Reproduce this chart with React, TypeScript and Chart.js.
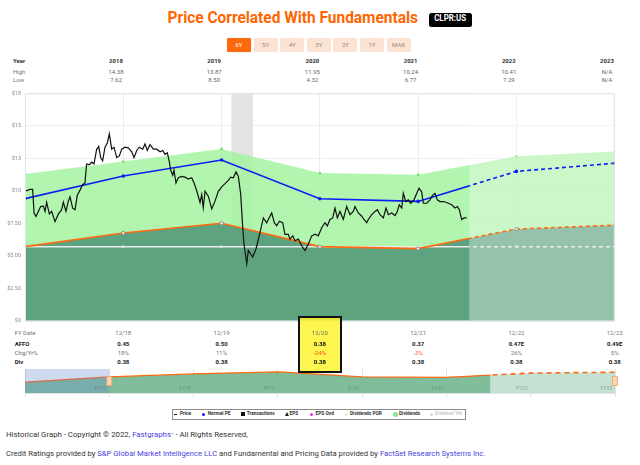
import React, { useEffect, useRef } from "react";
import { Chart, registerables } from "chart.js";
Chart.register(...registerables);

// ---------- data ----------
const fyIndex = [0, 1, 2, 3, 4, 5, 6]; // 12/17 .. 12/23
const headerYears = ["2018", "2019", "2020", "2021", "2022", "2023"];
const highs = ["14.38", "13.87", "11.95", "10.24", "10.41", "N/A"];
const lows = ["7.62", "8.50", "4.32", "6.77", "7.29", "N/A"];
const fyDates = ["12/18", "12/19", "12/20", "12/21", "12/22", "12/23"];
const affo = ["0.45", "0.50", "0.38", "0.37", "0.47E", "0.49E"];
const chgYr = ["18%", "11%", "-24%", "-3%", "26%", "5%"];
const divs = ["0.38", "0.38", "0.38", "0.38", "0.38", "0.38"];
const rangeButtons = ["6Y", "5Y", "4Y", "3Y", "2Y", "1Y", "MAX"];
const yTickLabels = ["$0", "$2.50", "$5.00", "$7.50", "$10", "$13", "$15", "$18"];

const dividendsArea = [11.29, 12.25, 13.22, 11.36, 11.24, 12.65, 13.02];
const normalPE = [9.39, 11.14, 12.37, 9.38, 9.18, 11.49, 12.12];
const epsLine = [5.7, 6.75, 7.5, 5.7, 5.55, 7.05, 7.35];
const dividendLine = [5.7, 5.7, 5.7, 5.7, 5.7, 5.7, 5.7];
const forecastStart = 4.52;
const recession = [2.1, 2.32];

const priceT = [
  0.01, 0.051, 0.078, 0.092, 0.112, 0.136, 0.159, 0.187, 0.204, 0.22, 0.248, 0.271, 0.305, 0.339, 0.373, 0.39,
  0.417, 0.441, 0.458, 0.485, 0.509, 0.532, 0.56, 0.587, 0.61, 0.627, 0.654, 0.679, 0.702, 0.729, 0.75, 0.77,
  0.79, 0.814, 0.838, 0.858, 0.882, 0.906, 0.933, 0.96, 0.984, 1.018, 1.051, 1.086, 1.109, 1.137, 1.163, 1.198,
  1.221, 1.244, 1.272, 1.306, 1.34, 1.374, 1.401, 1.425, 1.448, 1.469, 1.482, 1.503, 1.516, 1.536, 1.56, 1.594,
  1.628, 1.662, 1.696, 1.72, 1.747, 1.781, 1.798, 1.814, 1.832, 1.865, 1.9, 1.933, 1.967, 2.001, 2.035, 2.069,
  2.093, 2.12, 2.147, 2.171, 2.195, 2.215, 2.228, 2.256, 2.272, 2.317, 2.35, 2.391, 2.425, 2.459, 2.51, 2.537,
  2.561, 2.588, 2.622, 2.645, 2.679, 2.696, 2.724, 2.747, 2.781, 2.815, 2.849, 2.883, 2.917, 2.951, 2.984, 3.019,
  3.052, 3.076, 3.103, 3.131, 3.154, 3.178, 3.205, 3.239, 3.273, 3.307, 3.34, 3.358, 3.391, 3.426, 3.449, 3.477,
  3.493, 3.528, 3.561, 3.585, 3.612, 3.646, 3.673, 3.697, 3.731, 3.765, 3.788, 3.808, 3.833, 3.849, 3.874, 3.9,
  3.924, 3.958, 3.986, 4.009, 4.036, 4.053, 4.087, 4.121, 4.148, 4.172, 4.195, 4.223, 4.263, 4.307, 4.342, 4.375,
  4.399, 4.419, 4.443, 4.467, 4.494,
];
const priceV = [
  9.99, 10.1, 10.1, 8.29, 8.03, 8.41, 8.79, 8.82, 8.41, 9.12, 8.21, 8.41, 7.62, 8.2, 8.54, 9.12,
  8.41, 9.2, 9.54, 8.66, 8.54, 9.65, 10.05, 10.47, 10.6, 12.06, 12.0, 12.2, 12.06, 13.19, 13.4, 12.55,
  12.3, 13.35, 13.69, 14.38, 13.2, 13.35, 12.55, 12.68, 13.2, 13.35, 13.3, 13.0, 12.55, 13.1, 13.35, 13.2,
  13.6, 13.1, 13.55, 13.2, 13.2, 13.0, 13.1, 12.8, 12.93, 12.2, 11.6, 11.2, 11.6, 10.6, 11.0, 11.1,
  11.05, 10.9, 11.0, 10.6, 10.0, 9.1, 9.7, 8.7, 9.96, 9.58, 8.6, 9.2, 9.96, 10.3, 10.55, 10.8,
  11.05, 11.0, 11.45, 11.1, 9.7, 7.2, 5.9, 4.4, 5.4, 4.9, 5.52, 6.78, 7.91, 7.54, 8.29, 7.54,
  7.31, 7.66, 7.54, 6.65, 6.65, 6.28, 6.53, 6.15, 6.28, 5.77, 5.4, 5.9, 6.53, 6.65, 6.53, 7.16,
  7.54, 7.29, 7.79, 7.91, 8.67, 7.91, 8.41, 7.79, 8.79, 8.16, 8.41, 8.79, 8.29, 8.04, 7.79, 7.54,
  7.79, 8.16, 8.41, 8.54, 8.16, 7.91, 8.67, 8.16, 8.29, 8.09, 8.41, 8.92, 8.67, 9.8, 9.17, 9.3,
  9.04, 9.3, 9.8, 10.2, 9.92, 9.04, 9.04, 9.3, 9.67, 9.8, 9.3, 9.17, 9.17, 9.04, 8.92, 8.67,
  8.79, 8.54, 7.79, 7.91, 7.91,
];

const navIndex = [0, 1, 2, 3, 4, 5, 6, 7]; // 12/16 .. 12/23
const navValues = [3.8, 5.7, 6.75, 7.5, 5.7, 5.55, 7.05, 7.35];
const navLabels = ["FY17", "FY18", "FY19", "FY20", "FY21", "FY22", "FY23"];
const navForecastStart = 5.52;
const navSelection = [0, 1];

const legendItems = [
  { label: "Price", marker: "dash", color: "#111", mx: 175.7, tx: 180 },
  { label: "Normal PE", marker: "dot", color: "#1020ff", mx: 203.3, tx: 207.7 },
  { label: "Transactions", marker: "square", color: "#111", mx: 243, tx: 246.7 },
  { label: "EPS", marker: "tri", color: "#222", mx: 286.7, tx: 289.5 },
  { label: "EPS Ovd", marker: "dot", color: "#ff20ff", mx: 311.5, tx: 315.5 },
  { label: "Dividends POR", marker: "dot", color: "#d9f4d7", mx: 346, tx: 350 },
  { label: "Dividends", marker: "big", color: "#8ee68a", mx: 395, tx: 399 },
  { label: "Dividend Yld", marker: "dot", color: "#d8d8d8", mx: 431.7, tx: 435, faded: true },
];

// ---------- helpers ----------
const pts = (vals: number[], idx: number[] = fyIndex) => vals.map((v, i) => ({ x: idx[i], y: v }));
const FONT = "Roboto, sans-serif";

const splitPlugin = {
  id: "splitPlugin",
  beforeDatasetDraw(chart: any, args: any) {
    const ds: any = chart.data.datasets[args.index];
    if (!ds.part) return;
    const { ctx, chartArea } = chart;
    const fx = chart.scales.x.getPixelForValue(ds.splitAt);
    ctx.save();
    ctx.beginPath();
    if (ds.part === "hist") ctx.rect(chartArea.left - 10, chartArea.top - 10, fx - chartArea.left + 10, chartArea.height + 20);
    else ctx.rect(fx, chartArea.top - 10, chartArea.right + 10 - fx, chartArea.height + 20);
    ctx.clip();
  },
  afterDatasetDraw(chart: any, args: any) {
    const ds: any = chart.data.datasets[args.index];
    const { ctx, chartArea } = chart;
    if (ds.part) ctx.restore();
    if (ds.overlayColor) {
      const fx = chart.scales.x.getPixelForValue(ds.splitAt);
      ctx.save();
      ctx.fillStyle = ds.overlayColor;
      ctx.fillRect(fx, chartArea.top, chartArea.right - fx, chartArea.bottom - chartArea.top);
      ctx.restore();
    }
  },
};

const mainDecor = {
  id: "mainDecor",
  beforeDatasetsDraw(chart: any) {
    const { ctx, chartArea } = chart;
    const x = chart.scales.x;
    const a = x.getPixelForValue(recession[0]);
    const b = x.getPixelForValue(recession[1]);
    ctx.save();
    ctx.fillStyle = "#e3e3e3";
    ctx.fillRect(a, chartArea.top, b - a, chartArea.bottom - chartArea.top);
    ctx.restore();
  },
  afterDatasetsDraw(chart: any) {
    const { ctx, chartArea } = chart;
    ctx.save();
    ctx.strokeStyle = "#dde3ea";
    ctx.lineWidth = 1;
    ctx.strokeRect(chartArea.left + 0.5, chartArea.top + 0.5, chartArea.right - chartArea.left - 1, chartArea.bottom - chartArea.top);
    ctx.restore();
  },
};

const navDecor = {
  id: "navDecor",
  afterDatasetsDraw(chart: any) {
    const { ctx, chartArea } = chart;
    const x = chart.scales.x;
    ctx.save();
    const s0 = x.getPixelForValue(navSelection[0]);
    const s1 = x.getPixelForValue(navSelection[1]);
    ctx.fillStyle = "rgba(110,140,205,0.33)";
    ctx.fillRect(s0, chartArea.top, s1 - s0, chartArea.bottom - chartArea.top);
    ctx.fillStyle = "rgba(90,110,100,0.55)";
    ctx.font = `5px ${FONT}`;
    ctx.textAlign = "right";
    ctx.textBaseline = "middle";
    navLabels.forEach((l, i) => {
      ctx.fillText(l, x.getPixelForValue(navIndex[i + 1]) - 3, chartArea.bottom - 4);
    });
    const mid = (chartArea.top + chartArea.bottom) / 2;
    [navSelection[1], navIndex[navIndex.length - 1]].forEach((v) => {
      const px = x.getPixelForValue(v);
      ctx.fillStyle = "#fdd5b8";
      ctx.strokeStyle = "#f0a464";
      ctx.lineWidth = 0.8;
      ctx.fillRect(px - 2.5, mid - 4.5, 5, 9);
      ctx.strokeRect(px - 2.5, mid - 4.5, 5, 9);
    });
    ctx.restore();
  },
};

function lineSet(label: string, vals: number[], color: string, width: number, order: number, extra: any = {}) {
  const base = {
    label,
    data: pts(vals),
    borderColor: color,
    borderWidth: width,
    fill: false,
    order,
    splitAt: forecastStart,
    ...extra,
  };
  return [
    { ...base, part: "hist" },
    { ...base, part: "fcst", borderDash: [4, 3] },
  ];
}

function T(props: { x: number; y: number; w?: number; align?: "left" | "center" | "right"; style?: any; children: any }) {
  const w = props.w ?? 60;
  const align = props.align ?? "center";
  const left = align === "center" ? props.x - w / 2 : align === "right" ? props.x - w : props.x;
  return (
    <div
      style={{
        position: "absolute",
        left,
        top: props.y - 5,
        width: w,
        height: 10,
        lineHeight: "10px",
        textAlign: align,
        whiteSpace: "nowrap",
        fontFamily: FONT,
        fontSize: 6,
        color: "#555",
        ...props.style,
      }}
    >
      {props.children}
    </div>
  );
}

export default function App() {
  const mainRef = useRef<HTMLCanvasElement>(null);
  const navRef = useRef<HTMLCanvasElement>(null);

  useEffect(() => {
    const main = new Chart(mainRef.current as HTMLCanvasElement, {
      type: "line",
      data: {
        datasets: [
          {
            label: "Price",
            data: priceT.map((t, i) => ({ x: t, y: priceV[i] })),
            borderColor: "#111",
            borderWidth: 1.2,
            pointRadius: 0,
            fill: false,
            order: 1,
          },
          ...lineSet("Normal PE", normalPE, "#0b1ef5", 1.6, 2, {
            pointRadius: 1.8,
            pointBackgroundColor: "#0b1ef5",
            pointBorderWidth: 0,
          }),
          ...lineSet("EPS", epsLine, "#ff6a10", 1.6, 3, {
            pointRadius: 1.7,
            pointBackgroundColor: "#eeeeee",
            pointBorderColor: "#777",
            pointBorderWidth: 0.7,
          }),
          ...lineSet("Dividends POR", dividendLine, "#ececec", 1.5, 4, {
            pointRadius: 1.5,
            pointStyle: "rect",
            pointBackgroundColor: "#e6e6e6",
            pointBorderWidth: 0,
          }),
          {
            label: "EPS area",
            data: pts(epsLine),
            fill: "origin",
            backgroundColor: "rgba(82,151,119,0.87)",
            borderColor: "rgba(0,0,0,0)",
            borderWidth: 0,
            pointRadius: 0,
            order: 9,
            splitAt: forecastStart,
            overlayColor: "rgba(255,255,255,0.34)",
          },
          {
            label: "Dividends",
            data: pts(dividendsArea),
            fill: "origin",
            backgroundColor: "rgba(164,243,160,0.85)",
            borderColor: "rgba(0,0,0,0)",
            borderWidth: 0,
            pointRadius: 1.3,
            pointBackgroundColor: "#72de6e",
            pointBorderWidth: 0,
            order: 10,
          },
        ] as any,
      },
      options: {
        responsive: false,
        animation: false,
        devicePixelRatio: 1,
        layout: { padding: { left: 0, right: 25.3, top: 5, bottom: 4.7 } },
        plugins: { legend: { display: false }, tooltip: { enabled: false } },
        elements: { line: { tension: 0 } },
        scales: {
          x: {
            type: "linear",
            min: 0,
            max: 6,
            ticks: { display: false, stepSize: 1 },
            grid: { color: "#e9ebee", drawTicks: false },
            border: { color: "#dde3ea" },
            afterFit: (s: any) => {
              s.height = 0;
            },
          },
          y: {
            min: 0,
            max: 17.5,
            ticks: {
              stepSize: 2.5,
              padding: 4,
              color: "#8c8c8c",
              font: { size: 5.5, family: FONT },
              callback: (_v: any, i: number) => yTickLabels[i],
            },
            grid: { color: "#eeeeee", drawTicks: false },
            border: { color: "#dde3ea" },
            afterFit: (s: any) => {
              s.width = 25;
            },
          },
        } as any,
      },
      plugins: [splitPlugin, mainDecor],
    });

    const navBase = { data: pts(navValues, navIndex), splitAt: navForecastStart, pointRadius: 0, fill: false };
    const nav = new Chart(navRef.current as HTMLCanvasElement, {
      type: "line",
      data: {
        datasets: [
          { ...navBase, label: "nav", borderColor: "#ff6a10", borderWidth: 1.3, part: "hist", order: 1 },
          { ...navBase, label: "navF", borderColor: "#ff6a10", borderWidth: 1.6, borderDash: [5, 4], part: "fcst", order: 1 },
          {
            ...navBase,
            label: "navArea",
            fill: "origin",
            backgroundColor: "rgba(105,178,138,0.85)",
            borderColor: "rgba(0,0,0,0)",
            borderWidth: 0,
            order: 5,
            overlayColor: "rgba(255,255,255,0.55)",
          },
        ] as any,
      },
      options: {
        responsive: false,
        animation: false,
        devicePixelRatio: 1,
        layout: { padding: { left: 25, right: 25, top: 3, bottom: 3 } },
        plugins: { legend: { display: false }, tooltip: { enabled: false } },
        elements: { line: { tension: 0 } },
        scales: {
          x: {
            type: "linear",
            min: 0,
            max: 7,
            ticks: { display: false, stepSize: 1 },
            grid: { color: "#e4e4e4", drawTicks: true, tickLength: 4 },
            border: { color: "#e4e4e4" },
            afterFit: (s: any) => {
              s.height = 4;
            },
          },
          y: { display: false, min: 0, max: 8.5 },
        } as any,
      },
      plugins: [splitPlugin, navDecor],
    });

    return () => {
      main.destroy();
      nav.destroy();
    };
  }, []);

  const colX = (i: number) => 25 + (i + 1) * 98.28;
  const hdrX = (i: number) => 116 + i * 98.2;

  return (
    <div
      style={{
        position: "absolute",
        left: 0,
        top: 0,
        width: 640,
        height: 465,
        background: "#fff",
        overflow: "hidden",
        fontFamily: FONT,
      }}
    >
      {/* title */}
      <div style={{ position: "absolute", left: 0, top: 8, width: 586, height: 20, textAlign: "center" }}>
        <span
          style={{
            display: "inline-block",
            font: `bold 16px ${FONT}`,
            lineHeight: "20px",
            color: "#ff6600",
            transform: "scaleX(0.965)",
            whiteSpace: "nowrap",
          }}
        >
          Price Correlated With Fundamentals
        </span>
      </div>
      <div
        style={{
          position: "absolute",
          left: 429,
          top: 12.5,
          width: 43,
          height: 14,
          background: "#000",
          borderRadius: 2.5,
          color: "#fff",
          textAlign: "center",
          lineHeight: "14px",
          font: `bold 9px ${FONT}`,
        }}
      >
        <span style={{ display: "inline-block", transform: "scaleX(0.88)" }}>CLPR:US</span>
      </div>

      {/* range buttons */}
      {rangeButtons.map((b, i) => (
        <div
          key={b}
          style={{
            position: "absolute",
            left: 227 + i * 26.6,
            top: 38,
            width: 24,
            height: 14,
            borderRadius: 1.5,
            background: i === 0 ? "#ff6a0d" : "#fde3d2",
            color: i === 0 ? "#fff" : "#8a8a8a",
            fontSize: 6,
            lineHeight: "14px",
            textAlign: "center",
            boxShadow: i === 0 ? "0 0 1px rgba(0,0,0,0.3)" : "none",
          }}
        >
          {b}
        </div>
      ))}

      {/* header table */}
      <T x={13} y={60.7} align="left" style={{ fontWeight: "bold", color: "#333" }}>Year</T>
      <T x={13} y={71.7} align="left" style={{ color: "#777" }}>High</T>
      <T x={13} y={80.3} align="left" style={{ color: "#777" }}>Low</T>
      {headerYears.map((y, i) => (
        <React.Fragment key={y}>
          <T x={hdrX(i)} y={60.7} style={{ fontWeight: "bold", color: "#333" }}>{y}</T>
          <T x={hdrX(i)} y={71.7} style={{ color: "#666" }}>{highs[i]}</T>
          <T x={hdrX(i)} y={80.3} style={{ color: "#666" }}>{lows[i]}</T>
        </React.Fragment>
      ))}

      {/* main chart */}
      <canvas
        ref={mainRef}
        width={640}
        height={242}
        style={{ position: "absolute", left: 0, top: 86, width: 640, height: 242, display: "block" }}
      />

      {/* bottom table */}
      <T x={14.7} y={332.7} align="left" style={{ color: "#777" }}>FY Date</T>
      <T x={14.7} y={344.3} align="left" style={{ fontWeight: "bold", color: "#222" }}>AFFO</T>
      <T x={14.7} y={353} align="left" style={{ color: "#666" }}>Chg/Yr%</T>
      <T x={14.7} y={361.5} align="left" style={{ fontWeight: "bold", color: "#222" }}>Div</T>
      {fyDates.map((d, i) => (
        <React.Fragment key={d}>
          <T x={colX(i)} y={332.7} style={{ color: "#777" }}>{d}</T>
          <T x={colX(i)} y={344.3} style={{ fontWeight: "bold", color: "#222" }}>{affo[i]}</T>
          <T x={colX(i)} y={353} style={{ color: chgYr[i].startsWith("-") ? "#ff5a2a" : "#777" }}>{chgYr[i]}</T>
          <T x={colX(i)} y={361.5} style={{ fontWeight: "bold", color: "#222" }}>{divs[i]}</T>
        </React.Fragment>
      ))}

      {/* navigator */}
      <canvas
        ref={navRef}
        width={640}
        height={34}
        style={{ position: "absolute", left: 0, top: 366, width: 640, height: 34, display: "block" }}
      />

      {/* highlight box */}
      <div
        style={{
          position: "absolute",
          left: 298,
          top: 316,
          width: 40,
          height: 53,
          border: "2px solid #111",
          background: "rgba(255,244,40,0.82)",
        }}
      />
      <T x={colX(2)} y={332.7} style={{ color: "#777" }}>{fyDates[2]}</T>
      <T x={colX(2)} y={344.3} style={{ fontWeight: "bold", color: "#222" }}>{affo[2]}</T>
      <T x={colX(2)} y={353} style={{ color: "#ff5a2a" }}>{chgYr[2]}</T>
      <T x={colX(2)} y={361.5} style={{ fontWeight: "bold", color: "#222" }}>{divs[2]}</T>

      {/* legend */}
      <div
        style={{
          position: "absolute",
          left: 171.5,
          top: 408.5,
          width: 292,
          height: 9,
          border: "1.5px solid #8a8a8a",
          background: "#fff",
        }}
      />
      {legendItems.map((it) => {
        let marker: any = null;
        const cy = 414.3;
        if (it.marker === "dash")
          marker = <div style={{ position: "absolute", left: it.mx - 1.5, top: cy - 0.5, width: 3, height: 1, background: it.color }} />;
        else if (it.marker === "dot")
          marker = <div style={{ position: "absolute", left: it.mx - 1.5, top: cy - 1.5, width: 3, height: 3, borderRadius: 2, background: it.color }} />;
        else if (it.marker === "big")
          marker = <div style={{ position: "absolute", left: it.mx - 2.5, top: cy - 2.5, width: 5, height: 5, borderRadius: 3, background: it.color }} />;
        else if (it.marker === "square")
          marker = <div style={{ position: "absolute", left: it.mx - 2, top: cy - 2, width: 4, height: 4, background: it.color }} />;
        else if (it.marker === "tri")
          marker = (
            <div style={{ position: "absolute", left: it.mx - 2, top: cy - 2, width: 0, height: 0, borderLeft: "2px solid transparent", borderRight: "2px solid transparent", borderBottom: `4px solid ${it.color}` }} />
          );
        return (
          <React.Fragment key={it.label}>
            {marker}
            <T x={it.tx} y={cy} align="left" w={50} style={{ fontSize: 4.8, fontWeight: "bold", color: it.faded ? "#c8c8c8" : "#333" }}>
              {it.label}
            </T>
          </React.Fragment>
        );
      })}

      {/* footer */}
      <div style={{ position: "absolute", left: 6, top: 429, height: 11, lineHeight: "11px", fontSize: 7.8, color: "#333", whiteSpace: "nowrap" }}>
        Historical Graph - Copyright © 2022, <span style={{ color: "#4b3fe0" }}>Fastgraphs</span>
        <span style={{ fontSize: 4, verticalAlign: "top", color: "#555" }}>™</span> - All Rights Reserved,
      </div>
      <div style={{ position: "absolute", left: 6, top: 447.5, height: 11, lineHeight: "11px", fontSize: 7.7, color: "#333", whiteSpace: "nowrap" }}>
        Credit Ratings provided by <span style={{ color: "#4b3fe0" }}>S&amp;P Global Market Intelligence LLC</span> and Fundamental and
        Pricing Data provided by <span style={{ color: "#4b3fe0" }}>FactSet Research Systems Inc.</span>
      </div>
    </div>
  );
}
